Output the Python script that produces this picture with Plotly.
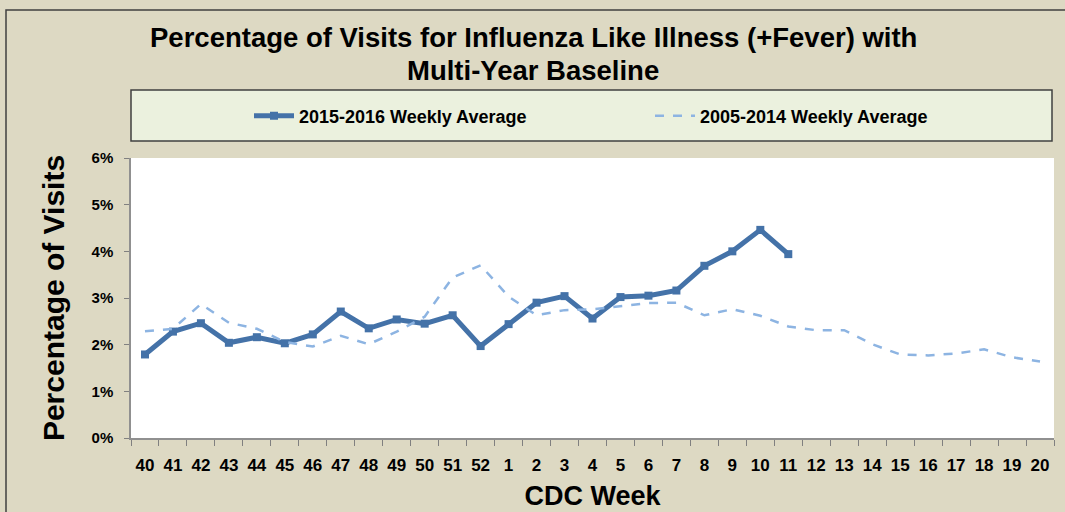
import plotly.graph_objects as go

weeks = ["40", "41", "42", "43", "44", "45", "46", "47", "48", "49", "50", "51", "52",
         "1", "2", "3", "4", "5", "6", "7", "8", "9", "10", "11", "12", "13", "14",
         "15", "16", "17", "18", "19", "20"]

season_2015_2016 = [1.79, 2.28, 2.46, 2.04, 2.16, 2.03, 2.22, 2.71, 2.35, 2.54, 2.45, 2.63, 1.97,
                    2.44, 2.90, 3.04, 2.56, 3.02, 3.05, 3.16, 3.69, 4.00, 4.46, 3.94]

baseline_2005_2014 = [2.29, 2.34, 2.87, 2.47, 2.34, 2.06, 1.96, 2.19, 2.01, 2.28, 2.60, 3.44, 3.70,
                      3.03, 2.63, 2.74, 2.76, 2.83, 2.89, 2.90, 2.63, 2.76, 2.62, 2.39, 2.31, 2.31,
                      2.01, 1.79, 1.77, 1.81, 1.90, 1.73, 1.64]

y_ticks = [0, 1, 2, 3, 4, 5, 6]
y_tick_labels = ["0%", "1%", "2%", "3%", "4%", "5%", "6%"]

title_lines = ["Percentage of Visits for Influenza Like Illness (+Fever) with", "Multi-Year Baseline"]

ARIAL = "Liberation Sans, Arial, sans-serif"

fig = go.Figure()
fig.add_trace(go.Scatter(
    x=weeks[:len(season_2015_2016)], y=season_2015_2016,
    name="2015-2016 Weekly Average", mode="lines+markers",
    line=dict(color="#4472A8", width=5),
    marker=dict(symbol="square", size=8, color="#4472A8"),
))
fig.add_trace(go.Scatter(
    x=weeks, y=baseline_2005_2014,
    name="2005-2014 Weekly Average", mode="lines",
    line=dict(color="#8DB4E2", width=2.5, dash="dash"),
))

L, R, T, B = 131, 11, 158, 74
W, H = 1065, 512
pw, ph = W - L - R, H - T - B

def px(x):
    return (x - L) / pw

def py(y):
    return (H - B - y) / ph

annotations = [
    dict(text=title_lines[0], xref="paper", yref="paper", x=px(533), y=py(37),
         xanchor="center", yanchor="middle", showarrow=False,
         font=dict(family=ARIAL, size=27.5, color="#000000", weight="bold")),
    dict(text=title_lines[1], xref="paper", yref="paper", x=px(533), y=py(70),
         xanchor="center", yanchor="middle", showarrow=False,
         font=dict(family=ARIAL, size=27.5, color="#000000", weight="bold")),
]

fig.update_layout(
    width=W, height=H,
    margin=dict(l=L, r=R, t=T, b=B, autoexpand=False),
    paper_bgcolor="#DDD9C3",
    plot_bgcolor="#FFFFFF",
    showlegend=True,
    legend=dict(
        orientation="h",
        x=px(249), xanchor="left",
        y=py(116), yanchor="middle",
        bgcolor="rgba(0,0,0,0)",
        font=dict(family=ARIAL, size=18, color="#000000", weight="bold"),
        entrywidth=346, entrywidthmode="pixels",
        itemwidth=40,
    ),
    annotations=annotations,
    xaxis=dict(
        type="category",
        categoryorder="array", categoryarray=weeks,
        range=[-0.5, len(weeks) - 0.5],
        tickson="boundaries",
        ticks="outside", ticklen=6, tickcolor="#808080", tickwidth=1,
        showline=True, linecolor="#909090", linewidth=2,
        showgrid=False, zeroline=False, automargin=False,
        tickangle=0, ticklabelstandoff=11,
        tickfont=dict(family=ARIAL, size=17, color="#000000", weight="bold"),
        title=dict(text="CDC Week", font=dict(family=ARIAL, size=27, color="#000000", weight="bold"),
                   standoff=12),
    ),
    yaxis=dict(
        range=[0, 6],
        tickvals=y_ticks, ticktext=y_tick_labels,
        ticks="outside", ticklen=5, tickcolor="#808080", tickwidth=1,
        showline=True, linecolor="#909090", linewidth=1.5,
        showgrid=False, zeroline=False, automargin=False,
        ticklabelstandoff=8,
        tickfont=dict(family=ARIAL, size=15, color="#000000", weight="bold"),
        title=dict(text="Percentage of Visits", font=dict(family=ARIAL, size=30, color="#000000", weight="bold"),
                   standoff=18),
    ),
    shapes=[
        dict(type="rect", xref="paper", yref="paper",
             x0=px(131), x1=px(1052), y0=py(141), y1=py(90),
             fillcolor="#EBF1DE", line=dict(color="#404040", width=1.5), layer="below"),
        dict(type="rect", xref="paper", yref="paper",
             x0=px(6), x1=px(1100), y0=py(560), y1=py(10),
             fillcolor="rgba(0,0,0,0)", line=dict(color="#404040", width=1.5), layer="above"),
    ],
)

fig.write_html("out.html", config={"displayModeBar": False},
               post_script="document.body.style.margin='0';document.body.style.overflow='hidden';")
